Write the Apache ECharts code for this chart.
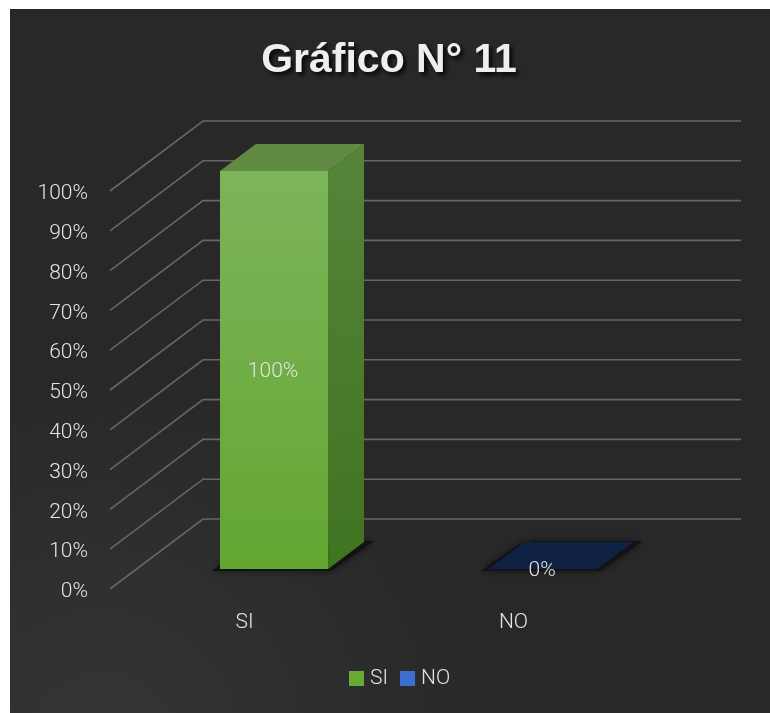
<!DOCTYPE html>
<html><head><meta charset="utf-8">
<style>html,body{margin:0;padding:0;background:#fff}#c{width:770px;height:713px}</style>
<script src="https://cdn.jsdelivr.net/npm/echarts@6/dist/echarts.min.js"></script>
</head><body><div id="c"></div>
<script>
const titleText = 'Gráfico N° 11';
const categories = ['SI', 'NO'];
const seriesSI = [1, null];
const seriesNO = [null, 0];
const yTicks = [0, 0.1, 0.2, 0.3, 0.4, 0.5, 0.6, 0.7, 0.8, 0.9, 1];

const FONT = 'Roboto';
const TXT = '#e4e4e4';
const DEPTH = [93, -70];
const BAR_NEAR = 0.286, BAR_FAR = 0.671, BAR_W = 0.402;

const lg = (a, b) => ({ type: 'linear', x: 0, y: 0, x2: 0, y2: 1, colorStops: [{ offset: 0, color: a }, { offset: 1, color: b }] });

function poly(points, fill, extra) {
  return Object.assign({ type: 'polygon', shape: { points }, style: Object.assign({ fill }, extra || {}), silent: true });
}

function barRenderer(pal) {
  return function (params, api) {
    const idx = api.value(0), val = api.value(1);
    if (val === null || val === undefined || isNaN(val)) return;
    const band = api.size([1, 0])[0], w = band * BAR_W;
    const base = api.coord([idx, 0]), top = api.coord([idx, val]);
    const nx = DEPTH[0] * BAR_NEAR, ny = DEPTH[1] * BAR_NEAR;
    const fx = DEPTH[0] * BAR_FAR, fy = DEPTH[1] * BAR_FAR;
    const dx = fx - nx, dy = fy - ny;
    const cx = base[0] + nx + 3;
    const l = cx - w / 2, r = cx + w / 2;
    const b = base[1] + ny, t = top[1] + ny;
    const children = [];
    children.push(poly([[l - 8, b + 2], [r + 3, b + 2], [r + dx + 10, b + dy - 1], [l + dx + 10, b + dy - 1], [l + dx - 6, b + dy + 2]], pal.floor, { shadowBlur: 8, shadowColor: pal.floor }));
    if (b - t > 0.5) {
      children.push(poly([[r, t], [r + dx, t + dy], [r + dx, b + dy], [r, b]], lg(pal.side[0], pal.side[1])));
      children.push({ type: 'rect', shape: { x: l, y: t, width: w, height: b - t }, style: { fill: lg(pal.front[0], pal.front[1]) }, silent: true });
    }
    children.push(poly([[l, t], [r, t], [r + dx, t + dy], [l + dx, t + dy]], pal.top));
    children.push({
      type: 'text', z2: 10, silent: true,
      style: {
        text: Math.round(val * 100) + '%', x: (l + r) / 2 - 1, y: (t + b) / 2 + 2,
        fill: TXT, font: '300 21px ' + FONT, align: 'center', verticalAlign: 'middle'
      }
    });
    return { type: 'group', children };
  };
}

function wallRenderer(params, api) {
  const v = api.value(0);
  const y = api.coord([0, v])[1];
  const cs = params.coordSys;
  const x0 = cs.x, x1 = cs.x + cs.width;
  const ls = { stroke: '#666666', lineWidth: 1.6, fill: null };
  return {
    type: 'group', silent: true, children: [
      { type: 'polyline', shape: { points: [[x0, y], [x0 + DEPTH[0], y + DEPTH[1]], [x1 + DEPTH[0], y + DEPTH[1]]] }, style: ls, silent: true }
    ]
  };
}

const chart = echarts.init(document.getElementById('c'), null, { renderer: 'canvas' });
chart.setOption({
  animation: false,
  backgroundColor: '#ffffff',
  graphic: [{
    type: 'rect', z: -10, silent: true,
    shape: { x: 10, y: 9, width: 760, height: 704 },
    style: {
      fill: {
        type: 'radial', x: 0.12, y: 1.05, r: 0.55,
        colorStops: [{ offset: 0, color: '#353535' }, { offset: 1, color: '#282828' }]
      }
    }
  }],
  title: {
    text: titleText, left: 384, top: 35, textAlign: 'center',
    textStyle: {
      color: '#efefef', fontFamily: 'Liberation Sans', fontWeight: 'bold', fontSize: 41,
      textShadowColor: 'rgba(0,0,0,0.85)', textShadowBlur: 4, textShadowOffsetX: 3, textShadowOffsetY: 3
    }
  },
  legend: {
    data: ['SI', 'NO'], left: 344, top: 663, itemWidth: 15, itemHeight: 15, itemGap: 12,
    icon: 'rect',
    textStyle: { color: TXT, fontFamily: FONT, fontWeight: 300, fontSize: 21, padding: [2, 0, 0, 1] }
  },
  grid: { left: 110, top: 191, width: 538, height: 398, containLabel: false },
  xAxis: {
    type: 'category', data: categories,
    axisLine: { show: false }, axisTick: { show: false }, splitLine: { show: false },
    axisLabel: { color: TXT, fontFamily: FONT, fontWeight: 300, fontSize: 21, margin: 23 }
  },
  yAxis: {
    type: 'value', min: 0, max: 1, interval: 0.1,
    axisLine: { show: false }, axisTick: { show: false }, splitLine: { show: false },
    axisLabel: {
      margin: 22,
      formatter: v => '{p|' + Math.round(v * 100) + '%}',
      rich: { p: { color: TXT, fontFamily: FONT, fontWeight: 300, fontSize: 21, padding: [6, 0, 0, 0] } }
    }
  },
  series: [
    {
      type: 'custom', name: 'walls', renderItem: wallRenderer, silent: true, z: 1,
      encode: { y: 0 }, clip: false,
      data: yTicks.map(v => [v])
    },
    {
      type: 'custom', name: 'SI', z: 3, clip: false, renderItem: barRenderer({
        front: ['#7db55b', '#63a632'], side: ['#568539', '#3f7421'], top: '#618b43', floor: '#121212'
      }),
      itemStyle: { color: '#66ab35' },
      encode: { x: 0, y: 1 },
      data: seriesSI.map((v, i) => [i, v])
    },
    {
      type: 'custom', name: 'NO', z: 3, clip: false, renderItem: barRenderer({
        front: ['#0f2448', '#0f2448'], side: ['#0b1b36', '#0b1b36'], top: '#0f2244', floor: '#131313'
      }),
      itemStyle: { color: '#3b6fd0' },
      encode: { x: 0, y: 1 },
      data: seriesNO.map((v, i) => [i, v])
    }
  ]
});
</script></body></html>
